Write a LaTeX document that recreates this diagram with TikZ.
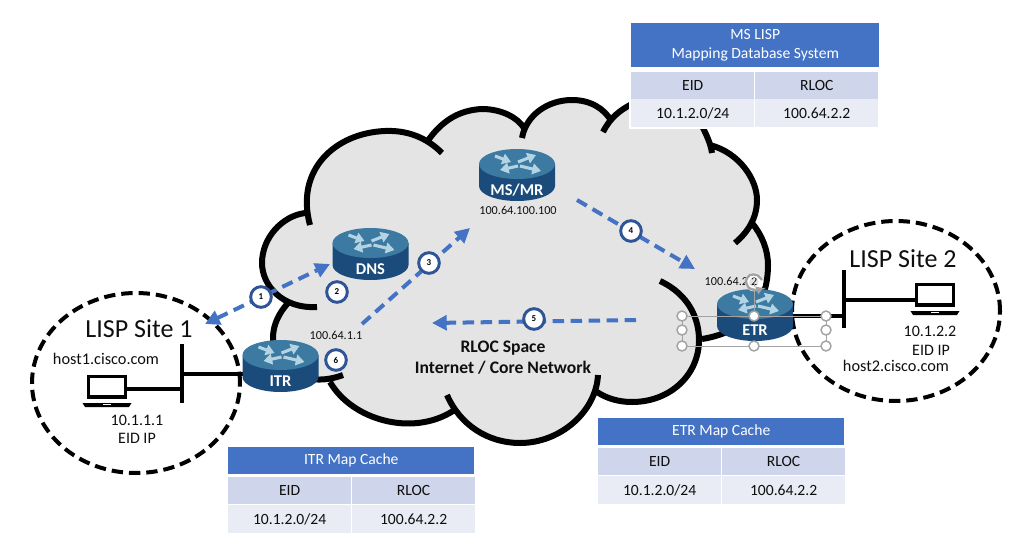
\documentclass[tikz,border=0pt]{standalone}
\usepackage{fontspec}
\setmainfont{Carlito}
\usetikzlibrary{arrows.meta,shapes.geometric}
\definecolor{cloudgray}{HTML}{E4E4E4}
\definecolor{flowblue}{HTML}{4472C4}
\definecolor{badgeblue}{HTML}{2F5597}
\definecolor{tabhead}{HTML}{CFD5EA}
\definecolor{tabrow}{HTML}{E9EBF5}
\definecolor{rtop}{HTML}{3C7AA2}
\definecolor{rside}{HTML}{1B4B7B}
\definecolor{rarrow}{HTML}{B4D4E4}
\definecolor{handle}{HTML}{A3A3A3}
\definecolor{inktext}{HTML}{0F0F0F}
\newcommand\fpx[1]{\pgfmathsetmacro\fpxv{#1*0.75}\pgfmathsetmacro\fpxl{#1*0.92}\fontsize{\fpxv}{\fpxl}\selectfont}
\newcommand\cloudall[1]{
 (317,307) .. controls (282,309) and (262,285) .. (262,263) .. controls (262,238) and (282,216) .. (305,213) #1
 (310,225) .. controls (295,170) and (335,133) .. (385,131) .. controls (408,130) and (427,138) .. (442,153) #1
 (427,142) .. controls (442,120) and (460,110) .. (482,109) .. controls (502,109) and (518,118) .. (524,128) #1
 (522,138) .. controls (526,115) and (548,100) .. (572,100) .. controls (590,100) and (604,108) .. (612,122) #1
 (603,132) .. controls (610,118) and (620,110) .. (632,104) .. controls (655,92) and (690,100) .. (704,130) .. controls (708,138) and (711,146) .. (712,153) #1
 (710,145) .. controls (740,153) and (757,180) .. (757,200) .. controls (757,218) and (748,232) .. (735,243) #1
 (752,223) .. controls (762,235) and (768,250) .. (768,265) .. controls (768,310) and (740,333) .. (702,339) #1
 (660,281) .. controls (690,295) and (699,320) .. (699,340) .. controls (699,375) and (670,402) .. (632,402) .. controls (618,402) and (606,398) .. (597,392) #1
 (598,375) .. controls (596,412) and (560,443) .. (520,443) .. controls (488,443) and (460,425) .. (447,395) #1
 (453,411) .. controls (412,437) and (352,420) .. (330,382) #1
 (343,375) .. controls (290,395) and (250,345) .. (288,303)
}
\tikzset{
 x=0.75pt,y=-0.75pt,
 cloudline/.style={draw=black,line width=4.5pt,line cap=butt},
 sitecircle/.style={ellipse,draw=black,line width=3pt,dash pattern=on 8.5pt off 4.5pt,minimum width=156pt,minimum height=135pt,inner sep=0pt},
 wire/.style={draw=black,line width=3.3pt},
 flow/.style={draw=flowblue,line width=3pt,dash pattern=on 8.5pt off 5pt},
 flowend/.style={-{Triangle[length=11pt,width=11pt]}},
 flowboth/.style={{Triangle[length=11pt,width=11pt]}-{Triangle[length=11pt,width=11pt]}},
 badge/.style={circle,draw=badgeblue,fill=white,line width=2.2pt,minimum size=15.5pt,inner sep=0pt,font=\fpx{9}\bfseries,text=black},
 lbl/.style={inner sep=0pt,text=inktext,align=center},
 tcell/.style={inner sep=0pt,text=inktext,font=\fpx{15.6},minimum height=20pt,anchor=north west},
 thead/.style={tcell,fill=tabhead},
 trow/.style={tcell,fill=tabrow},
 ttitle/.style={tcell,fill=flowblue,text=white,align=center},
 hnd/.style={circle,draw=handle,fill=white,line width=1.1pt,minimum size=7.5pt,inner sep=0pt},
 router/.pic={
  \node[minimum width=57pt,minimum height=39pt,inner sep=0pt] (-box) at (0,11) {};
  \fill[rside] (-38,0) -- (-38,22) arc[x radius=38,y radius=15,start angle=180,end angle=0] -- (38,0) -- cycle;
  \fill[rtop] (0,0) ellipse[x radius=38,y radius=15];
  \foreach \a/\b/\c/\d in {-22/-8/-6/-2, 1/-2/19/-9, 1/2/-17/6, 3/2/24/7}
    \draw[rarrow,line width=2.3pt,-{Triangle[length=6.5pt,width=8pt]}] (\a,\b) -- (\c,\d);
  \node[inner sep=0pt,text=white,font=\fpx{16.5}\bfseries] (-tag) at (0,26) {#1};
 },
 laptop/.pic={
  \draw[black,line width=2.7pt] (-18.5,-14.5) rectangle (18.5,6);
  \fill[black] (-24.5,12) -- (24.5,12) -- (22,16) -- (-22,16) -- cycle;
  \fill[white] (-4,12.5) rectangle (4,14);
 },
}
\begin{document}
\begin{tikzpicture}
\useasboundingbox (0,0) rectangle (1031,560);
% cloud
\fill[cloudgray] \cloudall{--} -- cycle;
\draw[cloudline] \cloudall{};
% sites
\node[sitecircle] (site1) at (136,383) {};
\node[sitecircle] (site2) at (896,311) {};
% fixed link ends
\coordinate (bus1top) at (182,344); \coordinate (bus1bot) at (182,403);
\coordinate (bus2top) at (844,270); \coordinate (bus2bot) at (844,328);
\coordinate (bus1up) at (182,374); \coordinate (bus1low) at (182,389);
\coordinate (bus2up) at (844,300); \coordinate (bus2low) at (844,316);
\coordinate (itrport) at (262,374); \coordinate (etrport) at (775,316);
\coordinate (lap1port) at (127,389); \coordinate (lap2port) at (915,300);
\draw[wire] (bus1top) -- (bus1bot);
\draw[wire] (bus2top) -- (bus2bot);
\draw[wire] (lap1port) -- (bus1low);
\draw[wire] (bus1up) -- (itrport);
\draw[wire] (lap2port) -- (bus2up);
\draw[wire] (etrport) -- (bus2low);
% laptops
\pic (lap1) at (107,391) {laptop};
\pic (lap2) at (935,299) {laptop};
% routers
\pic (dns) at (370.5,243) {router=DNS};
\pic (itr) at (280.5,355) {router=ITR};
\pic (ms) at (517,164) {router=MS/MR};
\pic (etr) at (755,304) {router=ETR};
% flows
\coordinate (f1a) at (205,324); \coordinate (f1b) at (330,264);
\coordinate (f3a) at (362,324); \coordinate (f3b) at (470,228);
\coordinate (f4a) at (577,200); \coordinate (f4b) at (695,269);
\coordinate (f5a) at (636,320); \coordinate (f5b) at (432,323);
\draw[flow,flowboth] (f1a) -- (f1b);
\draw[flow,flowend] (f3a) -- (f3b);
\draw[flow,flowend] (f4a) -- (f4b);
\draw[flow,flowend] (f5a) -- (f5b);
% badges
\node[badge] (b1) at (261,297) {1};
\node[badge] (b2) at (337,292) {2};
\node[badge] (b3) at (429,263) {3};
\node[badge] (b4) at (631,231) {4};
\node[badge] (b5) at (534,319) {5};
\node[badge] (b6) at (336,360) {6};
% labels
\node[lbl,font=\fpx{26}] (s1t) at (139,329) {LISP Site 1};
\node[lbl,font=\fpx{26}] (s2t) at (903,259) {LISP Site 2};
\node[lbl,font=\fpx{16.3}] (h1) at (106,359) {host1.cisco.com};
\node[lbl,font=\fpx{16.3}] (h2) at (896,366) {host2.cisco.com};
\node[lbl,font=\fpx{16}] (ip1) at (137,420) {10.1.1.1};
\node[lbl,font=\fpx{16}] (eid1) at (137,438) {EID IP};
\node[lbl,font=\fpx{16}] (ip2) at (930,331) {10.1.2.2};
\node[lbl,font=\fpx{16}] (eid2) at (931,350) {EID IP};
\node[lbl,font=\fpx{12.2}] (a1) at (336,335) {100.64.1.1};
\node[lbl,font=\fpx{12.2}] (a2) at (518,210) {100.64.100.100};
\node[lbl,font=\fpx{12.2}] (a3) at (731,281) {100.64.2.2};
\node[lbl,font=\fpx{17.6}\bfseries] (core1) at (503,348) {RLOC Space};
\node[lbl,font=\fpx{17.6}\bfseries] (core2) at (503,368) {Internet / Core Network};
% tables
\fill[white] (629,21) rectangle (880,129);
\node[ttitle,minimum width=186pt,minimum height=33pt] (mst) at (631,23) {MS LISP\\Mapping Database System};
\node[thead,minimum width=92.25pt] (msa) at (631,72) {EID};
\node[thead,minimum width=92.25pt] (msb) at (755,72) {RLOC};
\node[trow,minimum width=92.25pt,minimum height=21pt] (msc) at (631,99) {10.1.2.0/24};
\node[trow,minimum width=92.25pt,minimum height=21pt] (msd) at (755,99) {100.64.2.2};
\node[ttitle,minimum width=184.5pt] (itt) at (228,447) {ITR Map Cache};
\node[thead,minimum width=92pt] (ita) at (228,477) {EID};
\node[thead,minimum width=92pt] (itb) at (352,477) {RLOC};
\node[trow,minimum width=92pt,minimum height=21pt] (itc) at (228,505) {10.1.2.0/24};
\node[trow,minimum width=92pt,minimum height=21pt] (itd) at (352,505) {100.64.2.2};
\node[ttitle,minimum width=184.5pt] (ett) at (598,418) {ETR Map Cache};
\node[thead,minimum width=92pt] (eta) at (598,448) {EID};
\node[thead,minimum width=92pt] (etb) at (722,448) {RLOC};
\node[trow,minimum width=92pt,minimum height=21pt] (etc) at (598,476) {10.1.2.0/24};
\node[trow,minimum width=92pt,minimum height=21pt] (etd) at (722,476) {100.64.2.2};
% selection handles
\coordinate (rotc) at (754,282);
\draw[handle,line width=.7pt] (682,316) rectangle (826,346);
\draw[handle,line width=.7pt] (rotc) -- (754,316);
\draw[white,line width=3.4pt] (rotc) circle[radius=7];
\draw[handle,line width=1.8pt,-{Triangle[length=5pt,width=6pt]}] plot[smooth] coordinates {(762,280) (757,275) (750,275) (746,281) (749,288) (756,290) (763,288)};
\foreach \n/\p in {h1/{682,316},h2/{682,330},h3/{682,346},h4/{754,316},h5/{754,346},h6/{826,316},h7/{826,330},h8/{826,346}}
  \node[hnd] (\n x) at (\p) {};
\end{tikzpicture}
\end{document}
